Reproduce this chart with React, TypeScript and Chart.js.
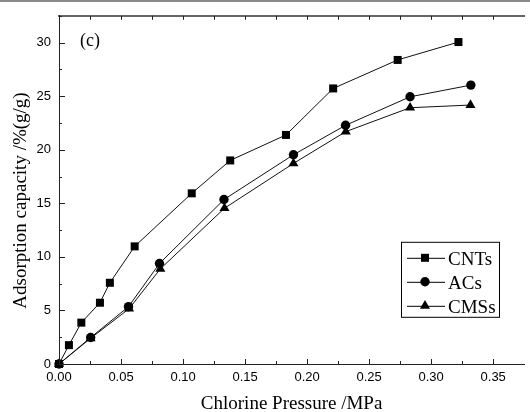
import { useEffect, useRef } from "react";
import { Chart, registerables } from "chart.js";

Chart.register(...registerables);

// ---- data ----
const seriesNames = ["CNTs", "ACs", "CMSs"];

const pressureCNTs = [0, 0.008, 0.018, 0.033, 0.041, 0.061, 0.107, 0.138, 0.183, 0.221, 0.273, 0.322];
const capacityCNTs = [0, 1.76, 3.86, 5.72, 7.58, 10.98, 15.93, 19.0, 21.38, 25.72, 28.38, 30.05];

const pressureACs = [0, 0.0255, 0.056, 0.081, 0.133, 0.189, 0.231, 0.283, 0.332];
const capacityACs = [0, 2.47, 5.35, 9.38, 15.35, 19.53, 22.28, 24.94, 26.03];

const pressureCMSs = [0, 0.0255, 0.0565, 0.0817, 0.1334, 0.189, 0.2312, 0.283, 0.3317];
const capacityCMSs = [0, 2.4, 5.16, 8.88, 14.54, 18.72, 21.69, 23.92, 24.17];

const xTickValues = [0, 0.05, 0.1, 0.15, 0.2, 0.25, 0.3, 0.35];
const yTickValues = [0, 5, 10, 15, 20, 25, 30];

const xTitle = "Chlorine Pressure /MPa";
const yTitle = "Adsorption capacity /%(g/g)";
const panelLabel = "(c)";

const SERIF = '"Liberation Serif", "Times New Roman", serif';
const SANS = '"Liberation Sans", Arial, sans-serif';

const toPoints = (xs: number[], ys: number[]) => xs.map((x, i) => ({ x, y: ys[i] }));

function drawMarker(ctx: CanvasRenderingContext2D, style: string, x: number, y: number) {
  ctx.beginPath();
  if (style === "rect") {
    ctx.rect(x - 4, y - 4, 8, 8);
  } else if (style === "circle") {
    ctx.arc(x, y, 4.7, 0, Math.PI * 2);
  } else {
    const r = 5.8;
    for (let k = 0; k < 3; k++) {
      const a = (k * 2 * Math.PI) / 3;
      const px = x + Math.sin(a) * r;
      const py = y - Math.cos(a) * r;
      if (k === 0) ctx.moveTo(px, py);
      else ctx.lineTo(px, py);
    }
    ctx.closePath();
  }
  ctx.fill();
}

const decorPlugin = {
  id: "decor",
  afterDraw(chart: any) {
    const ctx: CanvasRenderingContext2D = chart.ctx;
    const { left, right, top, bottom } = chart.chartArea;
    const xs = chart.scales.x;
    const ys = chart.scales.y;
    ctx.save();

    // top gray rule of the figure
    ctx.fillStyle = "#8a8a8a";
    ctx.fillRect(0, 0, chart.width, 2);

    // inward tick marks
    ctx.strokeStyle = "#222";
    ctx.lineWidth = 1;
    ctx.beginPath();
    for (let i = 0; i < xTickValues.length; i++) {
      const v = xTickValues[i];
      const px = Math.round(xs.getPixelForValue(v)) + 0.5;
      ctx.moveTo(px, bottom);
      ctx.lineTo(px, bottom - 5);
      ctx.moveTo(px, top);
      ctx.lineTo(px, top + 4);
      const mv = v + 0.025;
      if (mv < xs.max) {
        const mx = Math.round(xs.getPixelForValue(mv)) + 0.5;
        ctx.moveTo(mx, bottom);
        ctx.lineTo(mx, bottom - 3);
        ctx.moveTo(mx, top);
        ctx.lineTo(mx, top + 4);
      }
    }
    for (let i = 0; i < yTickValues.length; i++) {
      const v = yTickValues[i];
      const py = Math.round(ys.getPixelForValue(v)) + 0.5;
      ctx.moveTo(left, py);
      ctx.lineTo(left + 6, py);
      const mv = v + 2.5;
      if (mv <= ys.max) {
        const my = Math.round(ys.getPixelForValue(mv)) + 0.5;
        ctx.moveTo(left, my);
        ctx.lineTo(left + 3, my);
      }
    }
    ctx.stroke();

    // axis titles
    ctx.fillStyle = "#000";
    ctx.font = `19px ${SERIF}`;
    ctx.textAlign = "center";
    ctx.textBaseline = "alphabetic";
    ctx.fillText(xTitle, (left + right) / 2, 409);
    ctx.save();
    ctx.translate(26, 200.5);
    ctx.rotate(-Math.PI / 2);
    ctx.fillText(yTitle, 0, 0);
    ctx.restore();

    // panel label
    ctx.font = `18px ${SERIF}`;
    ctx.textAlign = "left";
    ctx.fillText(panelLabel, left + 21, top + 30);

    // legend box
    const bx = left + 342;
    const by = top + 226;
    const bw = 98;
    const bh = 75;
    ctx.strokeStyle = "#000";
    ctx.lineWidth = 1;
    ctx.strokeRect(bx + 0.5, by + 0.5, bw, bh);
    const styles = ["rect", "circle", "triangle"];
    ctx.font = `19px ${SERIF}`;
    for (let i = 0; i < seriesNames.length; i++) {
      const cy = by + 16 + i * 24;
      ctx.beginPath();
      ctx.moveTo(bx + 6, cy + 0.5);
      ctx.lineTo(bx + 44, cy + 0.5);
      ctx.stroke();
      ctx.fillStyle = "#000";
      drawMarker(ctx, styles[i], bx + 24, cy);
      ctx.fillText(seriesNames[i], bx + 47, cy + 7);
    }
    ctx.restore();
  },
};

export default function App() {
  const canvasRef = useRef<HTMLCanvasElement | null>(null);

  useEffect(() => {
    if (!canvasRef.current) return;
    const common = {
      borderColor: "#111",
      borderWidth: 1,
      pointBackgroundColor: "#000",
      pointBorderColor: "#000",
      pointBorderWidth: 0,
      showLine: true,
      fill: false,
      clip: false,
    };
    const chart = new Chart(canvasRef.current, {
      type: "scatter",
      data: {
        datasets: [
          { ...common, label: seriesNames[0], data: toPoints(pressureCNTs, capacityCNTs), pointStyle: "rect", pointRadius: 5.66, order: 3 },
          { ...common, label: seriesNames[1], data: toPoints(pressureACs, capacityACs), pointStyle: "circle", pointRadius: 4.7, order: 2 },
          { ...common, label: seriesNames[2], data: toPoints(pressureCMSs, capacityCMSs), pointStyle: "triangle", pointRadius: 5.8, order: 1 },
        ],
      } as any,
      options: {
        animation: false,
        responsive: false,
        devicePixelRatio: 1,
        layout: { padding: 0 },
        plugins: { legend: { display: false }, tooltip: { enabled: false } },
        scales: {
          x: {
            type: "linear",
            position: "bottom",
            min: 0,
            max: 0.375,
            grid: { display: false, drawTicks: false },
            border: { display: true, color: "#222", width: 1 },
            ticks: {
              color: "#000",
              font: { family: SANS, size: 13 },
              padding: 6,
              maxRotation: 0,
              callback: (v: any) => Number(v).toFixed(2),
            },
            afterBuildTicks: (s: any) => {
              s.ticks = xTickValues.map((value) => ({ value }));
            },
            afterFit: (s: any) => {
              s.height = 48;
            },
          },
          x2: {
            type: "linear",
            position: "top",
            min: 0,
            max: 0.375,
            grid: { display: false, drawTicks: false },
            border: { display: true, color: "#666", width: 2 },
            ticks: { display: false },
            afterFit: (s: any) => {
              s.height = 14;
            },
          },
          y: {
            type: "linear",
            position: "left",
            min: 0,
            max: 32.5,
            grid: { display: false, drawTicks: false },
            border: { display: true, color: "#222", width: 1 },
            ticks: {
              color: "#000",
              font: { family: SANS, size: 13 },
              padding: 8,
            },
            afterBuildTicks: (s: any) => {
              s.ticks = yTickValues.map((value) => ({ value }));
            },
            afterFit: (s: any) => {
              s.width = 59;
            },
          },
        },
      } as any,
      plugins: [decorPlugin],
    });
    return () => chart.destroy();
  }, []);

  return (
    <div style={{ position: "fixed", left: 0, top: 0, width: 530, height: 412, background: "#fff" }}>
      <canvas ref={canvasRef} width={530} height={412} style={{ display: "block" }} />
    </div>
  );
}
